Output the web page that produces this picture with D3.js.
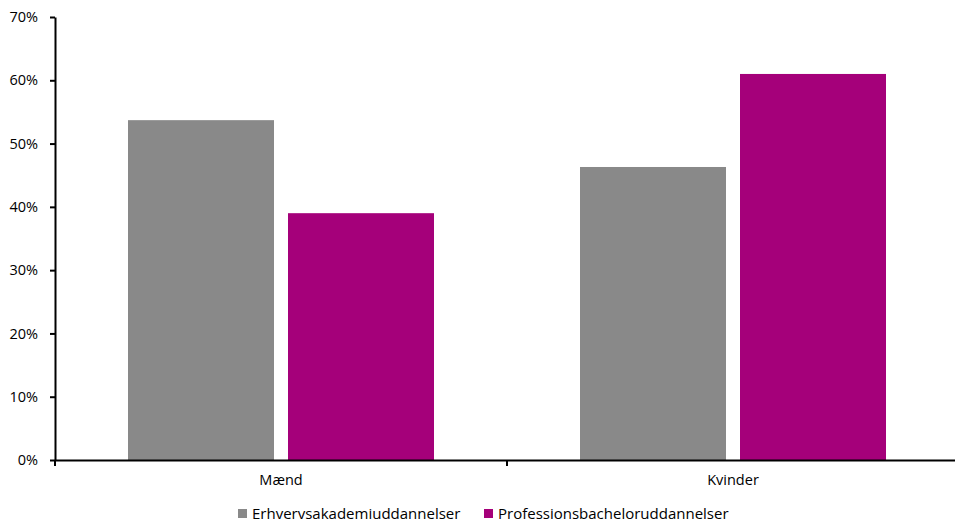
<!DOCTYPE html>
<html>
<head>
<meta charset="utf-8">
<script src="https://d3js.org/d3.v7.min.js"></script>
<style>
  body { margin: 0; background: #fff; }
  svg text { font-family: "Open Sans", Lato, sans-serif; fill: #000; }
</style>
</head>
<body>
<svg id="chart" width="955" height="523"></svg>
<script>
// data
var categories = ["Mænd", "Kvinder"];
var series = ["Erhvervsakademiuddannelser", "Professionsbacheloruddannelser"];
var erhverv = [0.537, 0.463];
var professions = [0.390, 0.610];
var yTicks = [0, 0.1, 0.2, 0.3, 0.4, 0.5, 0.6, 0.7];
var colors = ["#898989", "#A5007A"];

var values = [erhverv, professions];

var svg = d3.select("#chart");

var x0 = d3.scaleBand()
    .domain(categories)
    .range([55, 959])
    .padding(0);

var x1 = d3.scaleBand()
    .domain(series)
    .range([73, 379])
    .paddingInner(0.0875)
    .paddingOuter(0);

var y = d3.scaleLinear()
    .domain([0, 0.7])
    .range([460, 17]);

// bars
var groups = svg.selectAll("g.cat")
    .data(categories)
    .enter().append("g")
    .attr("class", "cat")
    .attr("transform", function(d) { return "translate(" + x0(d) + ",0)"; });

groups.selectAll("rect")
    .data(function(d, i) {
        return series.map(function(s, j) { return { s: s, v: values[j][i], j: j }; });
    })
    .enter().append("rect")
    .attr("x", function(d) { return x1(d.s); })
    .attr("y", function(d) { return y(d.v); })
    .attr("width", x1.bandwidth())
    .attr("height", function(d) { return y(0) - y(d.v); })
    .attr("fill", function(d) { return colors[d.j]; });

// y axis
var yAxis = svg.append("g")
    .attr("transform", "translate(55,0)")
    .call(d3.axisLeft(y).tickValues(yTicks).tickFormat(d3.format(".0%")).tickSize(5).tickSizeOuter(0));
yAxis.select(".domain").attr("stroke-width", 2);
yAxis.selectAll(".tick line").attr("stroke-width", 2);
yAxis.selectAll(".tick text").attr("x", -17).style("font-size", "14.5px");

// x axis
var xAxis = svg.append("g")
    .attr("transform", "translate(0,460)")
    .call(d3.axisBottom(x0).tickSize(0).tickSizeOuter(0));
xAxis.select(".domain").attr("stroke-width", 2);
xAxis.selectAll(".tick text").attr("dy", "1.5em").style("font-size", "14.5px");

// tick between categories
svg.append("line")
    .attr("x1", x0("Kvinder")).attr("x2", x0("Kvinder"))
    .attr("y1", 460).attr("y2", 466)
    .attr("stroke", "#000").attr("stroke-width", 2);
svg.append("line")
    .attr("x1", 55).attr("x2", 55)
    .attr("y1", 460).attr("y2", 466)
    .attr("stroke", "#000").attr("stroke-width", 2);

// legend
var legendX = [238, 484];
var legend = svg.selectAll("g.legend")
    .data(series)
    .enter().append("g")
    .attr("class", "legend")
    .attr("transform", function(d, i) { return "translate(" + legendX[i] + ",509)"; });

legend.append("rect")
    .attr("width", 9).attr("height", 9)
    .attr("fill", function(d, i) { return colors[i]; });

legend.append("text")
    .attr("x", 14).attr("y", 9.5)
    .style("font-size", "15px")
    .text(function(d) { return d; });
</script>
</body>
</html>
